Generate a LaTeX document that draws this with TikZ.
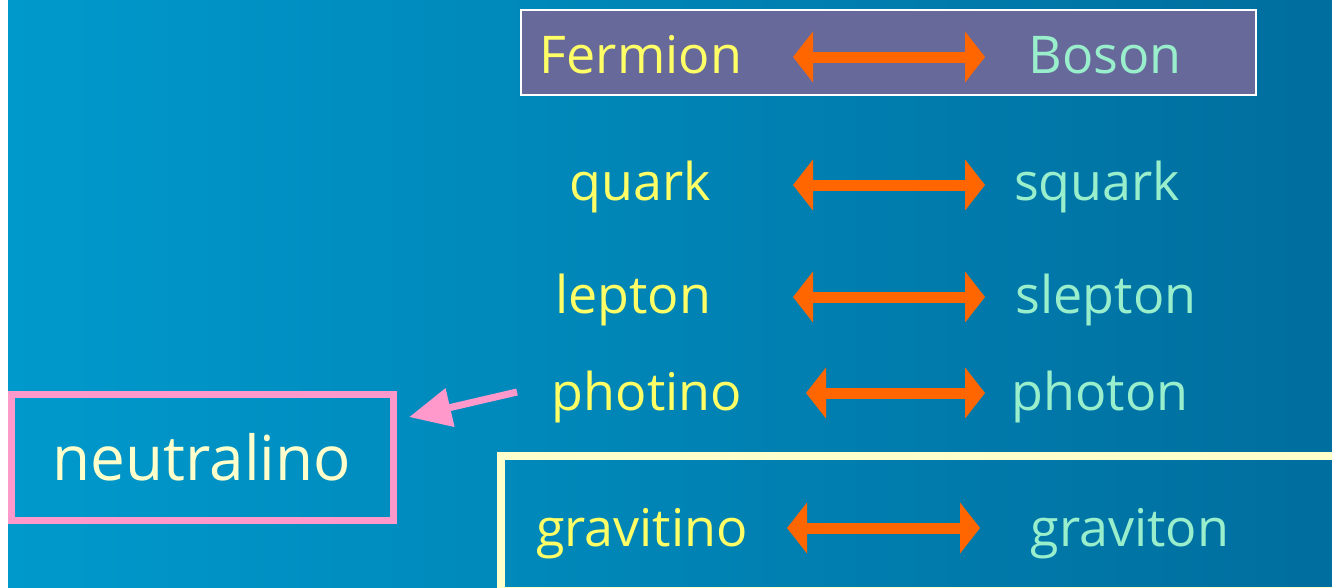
\documentclass[tikz,border=0pt]{standalone}
\usepackage{fontspec}
\setmainfont{Open Sans}
\usepackage{xcolor}
\usetikzlibrary{arrows.meta}

\definecolor{bgleft}{RGB}{0,153,204}
\definecolor{bgmid}{RGB}{0,142,194}
\definecolor{bgright}{RGB}{0,110,158}
\definecolor{headfill}{RGB}{103,105,154}
\definecolor{fermyellow}{RGB}{255,255,102}
\definecolor{bosgreen}{RGB}{153,238,204}
\definecolor{arroworange}{RGB}{255,102,0}
\definecolor{neutpink}{RGB}{255,153,204}
\definecolor{paleyellow}{RGB}{255,255,204}

\tikzset{
  fermlabel/.style={text=fermyellow, anchor=base, inner sep=0pt, font=\fontsize{52}{60}\selectfont},
  boslabel/.style={text=bosgreen, anchor=base, inner sep=0pt, font=\fontsize{52}{60}\selectfont},
  pairarrow/.style={arroworange, line width=11pt,
    {Triangle[length=20pt,width=50pt]}-{Triangle[length=20pt,width=50pt]}},
}

\begin{document}
\begin{tikzpicture}[x=1pt,y=-1pt]
  \useasboundingbox (0,0) rectangle (1332,587);
  \fill[white] (0,0) rectangle (1332,587);
  \shade[left color=bgleft, middle color=bgmid, right color=bgright] (8,0) rectangle (1332,587);

  % header
  \draw[white, line width=2pt, fill=headfill] (521,10) rectangle (1256,95);
  \node[fermlabel] (fermion) at (641,73) {Fermion};
  \node[boslabel] (boson) at (1105,73) {Boson};
  \coordinate (hdL) at (793,57);
  \coordinate (hdR) at (985,57);
  \draw[pairarrow] (hdL) -- (hdR);

  % pairs
  \node[fermlabel] (quark) at (640,200) {quark};
  \node[boslabel] (squark) at (1097,200) {squark};
  \coordinate (qL) at (793,185);
  \coordinate (qR) at (985,185);
  \draw[pairarrow] (qL) -- (qR);

  \node[fermlabel] (lepton) at (633,313) {lepton};
  \node[boslabel] (slepton) at (1106,313) {slepton};
  \coordinate (lL) at (793,297);
  \coordinate (lR) at (985,297);
  \draw[pairarrow] (lL) -- (lR);

  \node[fermlabel] (photino) at (647,410) {photino};
  \node[boslabel] (photon) at (1100,410) {photon};
  \coordinate (pL) at (806,393);
  \coordinate (pR) at (985,393);
  \draw[pairarrow] (pL) -- (pR);

  % gravitino box
  \draw[paleyellow, line width=8pt] (501,456) rectangle (1345,591);
  \node[fermlabel] (gravitino) at (642,546) {gravitino};
  \node[boslabel] (graviton) at (1130,546) {graviton};
  \coordinate (gL) at (787,528);
  \coordinate (gR) at (980,528);
  \draw[pairarrow] (gL) -- (gR);

  % neutralino
  \node[draw=neutpink, line width=7pt, minimum width=382pt, minimum height=126pt,
        text=paleyellow, font=\fontsize{62}{70}\selectfont] (neutralino) at (202,457) {neutralino};
  \coordinate (phTail) at (517,392);
  \draw[neutpink, line width=7pt, shorten >=13pt, -{Triangle[length=42pt,width=38pt]}]
    (phTail) -- (neutralino.north east |- 0,420);
\end{tikzpicture}
\end{document}
